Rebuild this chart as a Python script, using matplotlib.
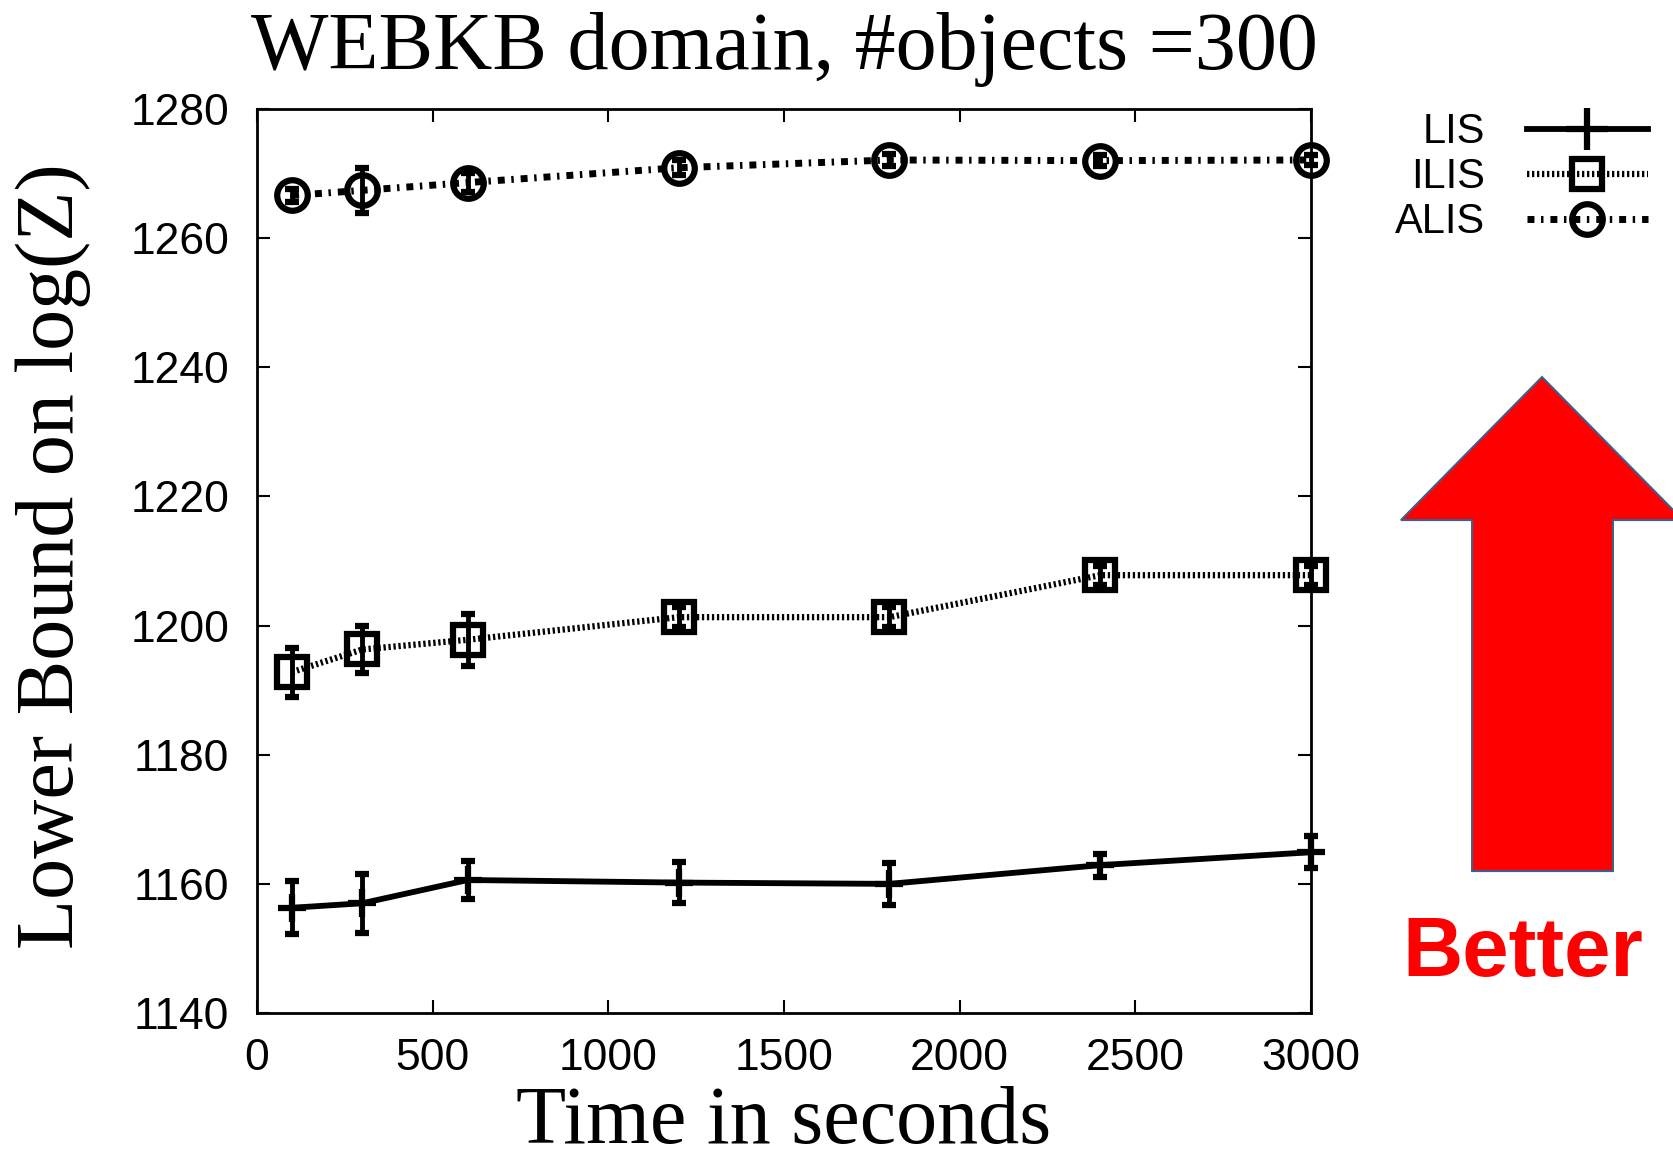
import matplotlib
matplotlib.use('Agg')
import matplotlib.pyplot as plt
from matplotlib.patches import Polygon
from matplotlib.lines import Line2D

# data
times = [100, 300, 600, 1200, 1800, 2400, 3000]
lis = [1156.3, 1157.0, 1160.6, 1160.2, 1160.0, 1162.9, 1164.9]
lis_err = [4.1, 4.6, 2.9, 3.2, 3.3, 1.8, 2.5]
ilis = [1192.8, 1196.3, 1197.8, 1201.3, 1201.3, 1207.8, 1207.8]
ilis_err = [3.8, 3.6, 4.0, 1.5, 1.5, 1.5, 1.5]
alis = [1266.6, 1267.4, 1268.6, 1270.9, 1272.1, 1272.0, 1272.1]
alis_err = [1.0, 3.5, 1.5, 1.2, 1.0, 0.8, 0.8]
xticks = [0, 500, 1000, 1500, 2000, 2500, 3000]
yticks = [1140, 1160, 1180, 1200, 1220, 1240, 1260, 1280]

plt.rcParams['font.family'] = ['Liberation Sans', 'DejaVu Sans']
serif = 'Liberation Serif'

fig = plt.figure(figsize=(16.73, 11.58), dpi=100)
ax = fig.add_axes([0.1536, 0.1252, 0.63, 0.7807])

styles = {
    'LIS': dict(linestyle='-', linewidth=4.2, marker='+', markersize=20),
    'ILIS': dict(linestyle=(0, (0.37, 0.43)), linewidth=4.5, marker='s', markersize=22,
                 markerfacecolor='none'),
    'ALIS': dict(linestyle=(0, (1.0, 0.95, 0.35, 1.0)), linewidth=5, marker='o',
                 markersize=22, markerfacecolor='none'),
}
ebkw = dict(color='black', elinewidth=3.5, capsize=5, capthick=4.5, markeredgewidth=4.5)

handles = []
for name, y, e in [('LIS', lis, lis_err), ('ILIS', ilis, ilis_err), ('ALIS', alis, alis_err)]:
    c = ax.errorbar(times, y, yerr=e, label=name, **styles[name], **ebkw)
    for a in c.get_children():
        a.set_clip_on(False)
    handles.append(Line2D([], [], color='black', markeredgewidth=4.5, label=name, **styles[name]))
handles[0].set_markersize(30)

ax.set_xlim(0, 3000)
ax.set_ylim(1140, 1280)
ax.set_xticks(xticks)
ax.set_yticks(yticks)
ax.tick_params(direction='in', length=9.5, width=1.5, labelsize=32,
               top=True, right=True)
ax.tick_params(axis='y', pad=20)
ax.tick_params(axis='x', pad=18)
for s in ax.spines.values():
    s.set_linewidth(2)

fig.text(0.4686, 0.940, 'WEBKB domain, #objects =300', family=serif,
         fontsize=59, ha='center', va='baseline')
fig.text(0.4686, 0.013, 'Time in seconds', family=serif,
         fontsize=59, ha='center', va='baseline')
fig.text(0.032, 0.52, 'Lower Bound on log(Z)', family=serif,
         fontsize=59, ha='center', va='center', rotation=90)

leg = ax.legend(handles=handles, loc='upper right', bbox_to_anchor=(0.985, 0.903),
                bbox_transform=fig.transFigure, frameon=False, markerfirst=False,
                fontsize=30, labelspacing=0.12, handlelength=2.9, handletextpad=1.0,
                borderpad=0, borderaxespad=0)

# "better" arrow
arrow = Polygon([(0.9217, 0.6744), (1.006, 0.5509), (0.9641, 0.5509), (0.9641, 0.2478),
                 (0.8799, 0.2478), (0.8799, 0.5509), (0.8374, 0.5509)],
                closed=True, facecolor='#ff0000', edgecolor='#3c5f8c', linewidth=1.5,
                transform=fig.transFigure, clip_on=False)
fig.patches.append(arrow)
fig.text(0.910, 0.157, 'Better', color='#ff0000', fontsize=60, fontweight='bold',
         ha='center', va='baseline')

plt.savefig('out.png', dpi=100)
